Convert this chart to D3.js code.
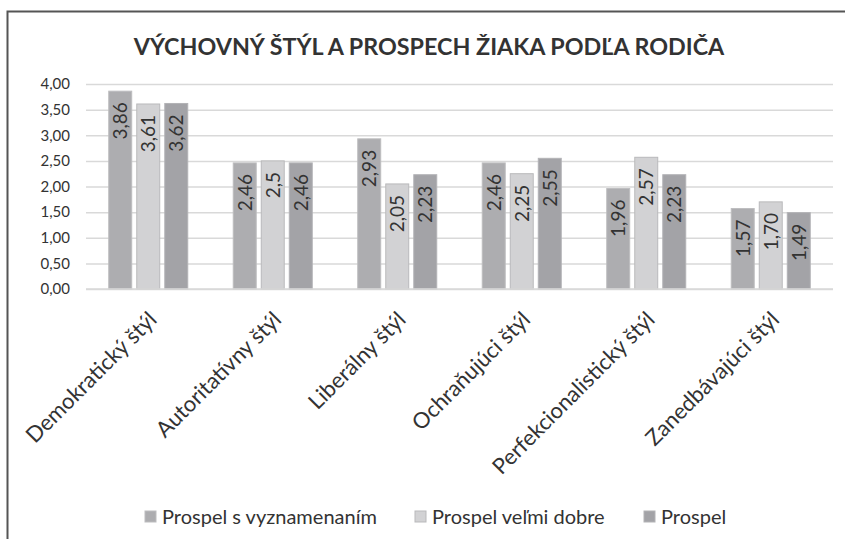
<!DOCTYPE html>
<html>
<head>
<meta charset="utf-8">
<script src="https://cdn.jsdelivr.net/npm/d3@7"></script>
<style>
  body { margin: 0; background: #fff; }
  text { font-family: Lato, "Open Sans", sans-serif; fill: #333; }
</style>
</head>
<body>
<svg id="chart" width="845" height="539"></svg>
<script>
// data
var categories = ["Demokratický štýl", "Autoritatívny štýl", "Liberálny štýl",
                  "Ochraňujúci štýl", "Perfekcionalistický štýl", "Zanedbávajúci štýl"];
var seriesNames = ["Prospel s vyznamenaním", "Prospel veľmi dobre", "Prospel"];
var vyznamenanie = [3.86, 2.46, 2.93, 2.46, 1.96, 1.57];
var velmiDobre   = [3.61, 2.5, 2.05, 2.25, 2.57, 1.70];
var prospel      = [3.62, 2.46, 2.23, 2.55, 2.23, 1.49];
var labelsVyz    = ["3,86", "2,46", "2,93", "2,46", "1,96", "1,57"];
var labelsVd     = ["3,61", "2,5", "2,05", "2,25", "2,57", "1,70"];
var labelsPr     = ["3,62", "2,46", "2,23", "2,55", "2,23", "1,49"];
var yTicks = [0, 0.5, 1, 1.5, 2, 2.5, 3, 3.5, 4];

var fills = ["#adadb0", "#d2d2d4", "#a3a3a7"];
var strokes = ["#bdbdbf", "#b9b9bb", "#b3b3b6"];

var svg = d3.select("#chart");

// frame (top + left edge only)
svg.append("path")
    .attr("d", "M7.5,539 L7.5,11.5 L845,11.5")
    .attr("fill", "none")
    .attr("stroke", "#555")
    .attr("stroke-width", 2);

var margin = {top: 84, left: 86, right: 12, bottom: 250},
    width = 845 - margin.left - margin.right,
    height = 539 - margin.top - margin.bottom;

var g = svg.append("g").attr("transform", "translate(" + margin.left + "," + margin.top + ")");

var x0 = d3.scaleBand().domain(categories).range([0, width]);
var x1 = d3.scaleBand().domain([0, 1, 2]).range([x0.bandwidth() / 2 - 39.5, x0.bandwidth() / 2 + 39.5]).paddingInner(0.18);
var y = d3.scaleLinear().domain([0, 4]).range([height, 0]);

// grid
g.append("g")
    .attr("class", "grid")
    .call(d3.axisLeft(y).tickValues(yTicks).tickSize(-width).tickFormat(""))
    .call(function(a){ a.select(".domain").remove(); })
    .selectAll("line").attr("stroke", "#d9d9d9").attr("stroke-width", 1.5);

// y labels
g.append("g")
    .call(d3.axisLeft(y).tickValues(yTicks).tickSize(0).tickPadding(16)
        .tickFormat(function(d){ return d3.format(".2f")(d).replace(".", ","); }))
    .call(function(a){ a.select(".domain").remove(); })
    .selectAll("text")
    .style("font-size", "15px")
    .attr("fill", "#333");

var series = [
  {vals: vyznamenanie, labels: labelsVyz},
  {vals: velmiDobre, labels: labelsVd},
  {vals: prospel, labels: labelsPr}
];

series.forEach(function(s, si){
  var sg = g.append("g");
  sg.selectAll("rect")
    .data(categories)
    .enter().append("rect")
      .attr("x", function(c){ return x0(c) + x1(si); })
      .attr("y", function(c, i){ return y(s.vals[i]); })
      .attr("width", x1.bandwidth())
      .attr("height", function(c, i){ return height - y(s.vals[i]); })
      .attr("fill", fills[si])
      .attr("stroke", strokes[si])
      .attr("stroke-width", 1);

  sg.selectAll("text")
    .data(categories)
    .enter().append("text")
      .attr("transform", function(c, i){
        var cx = x0(c) + x1(si) + x1.bandwidth() / 2;
        var ty = y(s.vals[i]) + 11;
        return "translate(" + (cx + 7) + "," + ty + ") rotate(-90)";
      })
      .attr("text-anchor", "end")
      .style("font-size", "19px")
      .text(function(c, i){ return s.labels[i]; });
});

// x axis line
g.append("line")
    .attr("x1", 0).attr("x2", width)
    .attr("y1", height).attr("y2", height)
    .attr("stroke", "#d9d9d9").attr("stroke-width", 1.5);

// category labels
g.append("g").selectAll("text")
  .data(categories)
  .enter().append("text")
    .attr("transform", function(c){
      return "translate(" + (x0(c) + x0.bandwidth() / 2 + 10) + "," + (height + 32) + ") rotate(-45)";
    })
    .attr("text-anchor", "end")
    .style("font-size", "22px")
    .text(function(c){ return c; });

// title
svg.append("text")
    .attr("x", 429)
    .attr("y", 55)
    .attr("text-anchor", "middle")
    .style("font-size", "23.3px")
    .style("font-weight", "bold")
    .attr("fill", "#222")
    .text("VÝCHOVNÝ ŠTÝL A PROSPECH ŽIAKA PODĽA RODIČA");

// legend
var legendX = [145, 415, 644];
var legend = svg.append("g").selectAll("g")
  .data(seriesNames)
  .enter().append("g")
    .attr("transform", function(d, i){ return "translate(" + legendX[i] + ",517)"; });
legend.append("rect")
    .attr("x", 0).attr("y", -6)
    .attr("width", 11).attr("height", 11)
    .attr("fill", function(d, i){ return fills[i]; })
    .attr("stroke", function(d, i){ return strokes[i]; });
legend.append("text")
    .attr("x", 17).attr("y", 0)
    .attr("dy", "0.35em")
    .style("font-size", "20px")
    .text(function(d){ return d; });
</script>
</body>
</html>
